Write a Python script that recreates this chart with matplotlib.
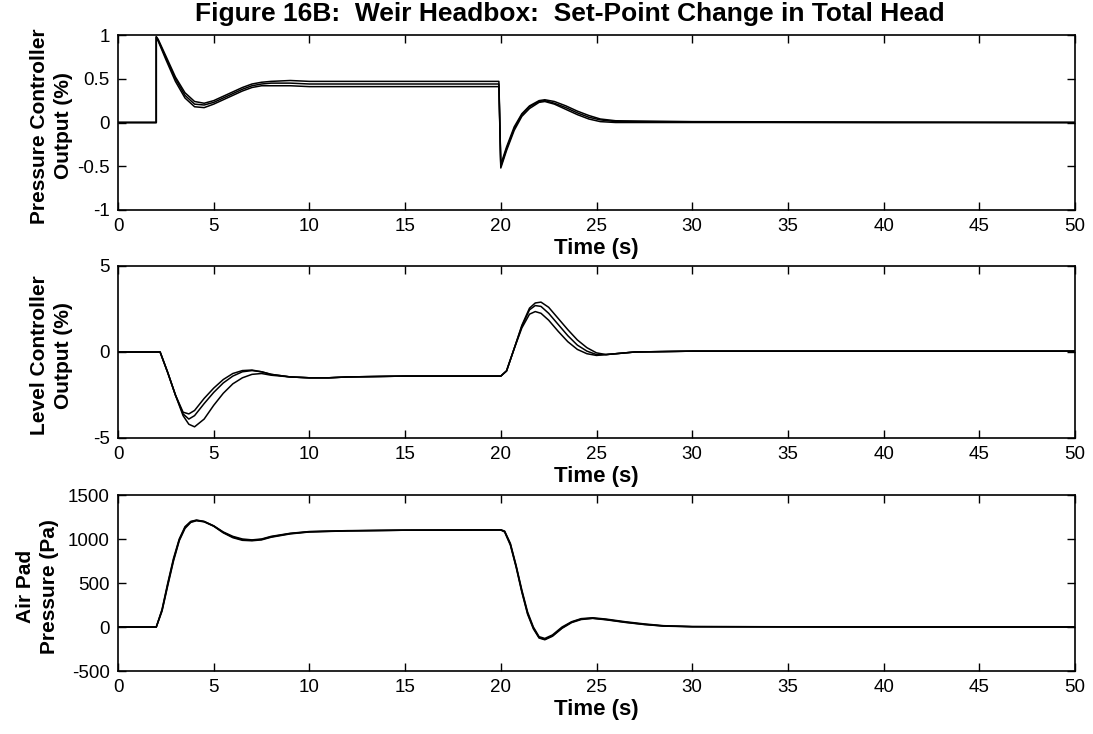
import matplotlib
matplotlib.use("Agg")
import matplotlib.pyplot as plt

# ---------------- data ----------------
title = "Figure 16B:  Weir Headbox:  Set-Point Change in Total Head"
xlabel = "Time (s)"
x_ticks = [0, 5, 10, 15, 20, 25, 30, 35, 40, 45, 50]
x_ticklabels = ["0", "5", "10", "15", "20", "25", "30", "35", "40", "45", "50"]

# Panel 1: Pressure controller output (%)
t_p = [0, 2.0, 2.0, 2.1, 2.5, 3.0, 3.5, 4.0, 4.5, 5.0, 5.5, 6.0, 6.5, 7.0, 7.5,
       8.0, 9.0, 10.0, 12.0, 15.0, 19.9, 20.0, 20.3, 20.7, 21.1, 21.5, 22.0,
       22.3, 22.8, 23.4, 24.0, 24.6, 25.2, 26.0, 30.0, 40.0, 50.0]
p1 = [0, 0, 0.98, 0.95, 0.76, 0.52, 0.34, 0.24, 0.22, 0.25, 0.30, 0.35, 0.40,
      0.44, 0.46, 0.47, 0.48, 0.47, 0.47, 0.47, 0.47, -0.48, -0.28, -0.05,
      0.10, 0.19, 0.25, 0.26, 0.24, 0.19, 0.13, 0.08, 0.04, 0.02, 0.01, 0.005, 0.0]
p2 = [0, 0, 0.98, 0.94, 0.74, 0.50, 0.31, 0.21, 0.20, 0.23, 0.28, 0.33, 0.38,
      0.42, 0.44, 0.45, 0.45, 0.44, 0.44, 0.44, 0.44, -0.50, -0.30, -0.07,
      0.09, 0.18, 0.24, 0.25, 0.22, 0.17, 0.11, 0.06, 0.03, 0.01, 0.005, 0.0, 0.0]
p3 = [0, 0, 0.97, 0.93, 0.72, 0.47, 0.28, 0.18, 0.17, 0.21, 0.26, 0.31, 0.36,
      0.40, 0.42, 0.42, 0.42, 0.41, 0.41, 0.41, 0.41, -0.52, -0.32, -0.09,
      0.07, 0.16, 0.23, 0.24, 0.21, 0.15, 0.09, 0.04, 0.01, 0.0, 0.0, 0.0, 0.0]
p_yticks = [-1, -0.5, 0, 0.5, 1]
p_yticklabels = ["-1", "-0.5", "0", "0.5", "1"]
p_ylabel = "Pressure Controller\nOutput (%)"

# Panel 2: Level controller output (%)
t_l = [0, 2.2, 2.6, 3.0, 3.4, 3.7, 4.0, 4.5, 5.0, 5.5, 6.0, 6.5, 7.0, 7.5, 8.0,
       9.0, 10.0, 11.0, 12.0, 15.0, 20.0, 20.3, 20.7, 21.1, 21.5, 21.8, 22.1,
       22.5, 23.0, 23.5, 24.0, 24.5, 25.0, 25.5, 26.0, 27.0, 30.0, 40.0, 50.0]
l1 = [0, 0, -1.2, -2.5, -3.5, -3.6, -3.4, -2.7, -2.1, -1.6, -1.25, -1.08, -1.05,
      -1.15, -1.3, -1.45, -1.5, -1.5, -1.45, -1.4, -1.4, -1.1, 0.2, 1.4, 2.2,
      2.35, 2.25, 1.85, 1.2, 0.6, 0.15, -0.1, -0.2, -0.15, -0.1, 0.0, 0.05, 0.05, 0.05]
l2 = [0, 0, -1.2, -2.5, -3.6, -3.9, -3.7, -3.0, -2.35, -1.8, -1.4, -1.15, -1.08,
      -1.15, -1.3, -1.45, -1.5, -1.5, -1.45, -1.4, -1.4, -1.1, 0.2, 1.5, 2.45,
      2.7, 2.65, 2.25, 1.6, 0.95, 0.4, 0.05, -0.15, -0.15, -0.1, 0.0, 0.05, 0.05, 0.05]
l3 = [0, 0, -1.2, -2.5, -3.7, -4.2, -4.35, -3.9, -3.1, -2.4, -1.85, -1.5, -1.3,
      -1.25, -1.35, -1.45, -1.5, -1.5, -1.45, -1.4, -1.4, -1.1, 0.2, 1.55, 2.55,
      2.85, 2.9, 2.6, 1.95, 1.3, 0.7, 0.25, -0.05, -0.15, -0.1, 0.0, 0.05, 0.05, 0.05]
l_yticks = [-5, 0, 5]
l_yticklabels = ["-5", "0", "5"]
l_ylabel = "Level Controller\nOutput (%)"

# Panel 3: Air pad pressure (Pa)
t_a = [0, 2.0, 2.3, 2.6, 2.9, 3.2, 3.5, 3.8, 4.1, 4.5, 5.0, 5.5, 6.0, 6.5, 7.0,
       7.5, 8.0, 9.0, 10.0, 12.0, 15.0, 20.0, 20.2, 20.5, 20.8, 21.1, 21.4,
       21.7, 22.0, 22.3, 22.7, 23.2, 23.7, 24.2, 24.8, 25.5, 26.5, 27.5, 28.5,
       30.0, 40.0, 50.0]
a1 = [0, 0, 200, 500, 780, 1000, 1140, 1200, 1215, 1200, 1150, 1080, 1030, 1000,
      990, 1000, 1030, 1065, 1085, 1095, 1100, 1105, 1090, 950, 700, 420, 170,
      0, -110, -130, -90, 0, 60, 95, 105, 90, 60, 35, 15, 5, 0, 0]
a2 = [0, 0, 190, 485, 765, 990, 1130, 1195, 1212, 1198, 1148, 1075, 1022, 992,
      985, 995, 1025, 1062, 1082, 1093, 1100, 1103, 1085, 940, 690, 405, 155,
      -10, -120, -140, -100, -10, 55, 90, 100, 85, 55, 30, 12, 4, 0, 0]
a3 = [0, 0, 180, 470, 750, 980, 1120, 1188, 1208, 1195, 1145, 1070, 1015, 985,
      980, 990, 1020, 1058, 1080, 1092, 1100, 1102, 1080, 930, 680, 395, 145,
      -20, -125, -145, -105, -15, 50, 85, 98, 82, 52, 28, 10, 3, 0, 0]
a_yticks = [-500, 0, 500, 1000, 1500]
a_yticklabels = ["-500", "0", "500", "1000", "1500"]
a_ylabel = "Air Pad\nPressure (Pa)"

# ---------------- plotting ----------------
plt.rcParams["axes.unicode_minus"] = False
plt.rcParams["font.family"] = ["Liberation Sans", "DejaVu Sans"]

W, H = 1093, 734
fig = plt.figure(figsize=(W / 100, H / 100), dpi=100)
fig.patch.set_facecolor("white")

left, right = 118, 1075

def add_ax(top_px, bot_px):
    return fig.add_axes([left / W, 1 - bot_px / H, (right - left) / W, (bot_px - top_px) / H])

# last entry: pixel x of the right edge of the (rotated) y label
panels = [
    (add_ax(35, 210), t_p, [p1, p2, p3], (-1, 1), p_yticks, p_yticklabels, p_ylabel, 73),
    (add_ax(266, 438), t_l, [l1, l2, l3], (-5, 5), l_yticks, l_yticklabels, l_ylabel, 73),
    (add_ax(495, 671), t_a, [a1, a2, a3], (-500, 1500), a_yticks, a_yticklabels, a_ylabel, 59),
]

for ax, t, series, ylim, yt, ytl, ylab, ylab_x in panels:
    for s in series:
        ax.plot(t, s, color="black", lw=1.1)
    ax.set_xlim(0, 50)
    ax.set_ylim(*ylim)
    ax.set_xticks(x_ticks)
    ax.set_xticklabels(x_ticklabels)
    ax.set_yticks(yt)
    ax.set_yticklabels(ytl)
    ax.tick_params(direction="in", top=True, right=True, length=6, width=1,
                   labelsize=13.5, pad=6)
    for sp in ax.spines.values():
        sp.set_linewidth(1.2)
        sp.set_color("black")
    ax.set_xlabel(xlabel, fontsize=16, fontweight="bold", labelpad=2)
    ax.set_ylabel(ylab, fontsize=15, fontweight="bold", linespacing=1.3)
    ax.yaxis.set_label_coords((ylab_x - left) / (right - left), 0.48)

fig.text(570 / W, 1 - 14 / H, title, ha="center", va="center",
         fontsize=19, fontweight="bold")

fig.savefig("out.png", dpi=100, facecolor="white")
